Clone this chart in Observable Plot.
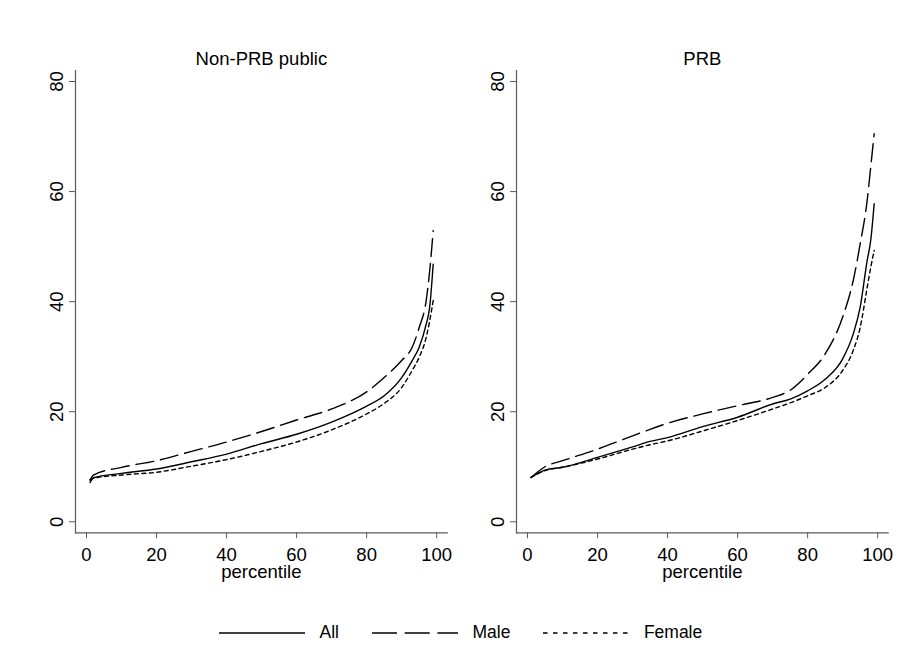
<!DOCTYPE html>
<html><head><meta charset="utf-8">
<script src="https://cdn.jsdelivr.net/npm/d3@7"></script>
<script src="https://cdn.jsdelivr.net/npm/@observablehq/plot@0.6"></script>
<style>
body{margin:0;background:#fff;font-family:"Liberation Sans",Arial,sans-serif;}
#wrap{position:relative;width:908px;height:668px;background:#fff;overflow:hidden}
.panel{position:absolute;top:0}
#legend{position:absolute;top:622px;left:219px;display:flex;align-items:center;font-size:17.5px;color:#000}
#legend .item{display:flex;align-items:center;margin-right:33px}
#legend span{margin-left:14.5px}
</style></head>
<body><div id="wrap"></div>
<script>
// ---- data ----
const panelTitles = ["Non-PRB public", "PRB"];
const seriesNames = ["All", "Male", "Female"];
const xTicks = [0, 20, 40, 60, 80, 100];
const yTicks = [0, 20, 40, 60, 80];

const pctNonPRB = [1, 2, 10, 20, 30, 40, 50, 60, 70, 80, 85, 90, 93, 95, 97, 98, 99];
const nonPRBAll    = [7.1, 8.0, 8.8, 9.6, 10.9, 12.3, 14.2, 15.9, 18.1, 21.0, 22.9, 26.2, 29.3, 31.7, 35.9, 39.0, 46.8];
const nonPRBMale   = [7.6, 8.5, 9.9, 11.1, 12.8, 14.5, 16.4, 18.5, 20.5, 23.6, 26.2, 29.3, 31.7, 35.3, 40.2, 45.6, 52.9];
const nonPRBFemale = [7.6, 7.9, 8.5, 9.0, 10.1, 11.3, 12.8, 14.5, 16.7, 19.6, 21.5, 24.4, 27.5, 29.9, 33.5, 36.5, 40.2];

const pctPRB = [1, 5, 10, 20, 30, 35, 40, 50, 60, 70, 75, 80, 85, 90, 93, 95, 97, 98, 99];
const prbAll    = [8.06, 9.4, 9.9, 11.7, 13.6, 14.6, 15.3, 17.3, 19.0, 21.4, 22.3, 23.8, 25.9, 29.6, 34.1, 39.0, 47.5, 51.1, 57.8];
const prbMale   = [8.06, 10.0, 11.1, 13.2, 15.6, 16.8, 17.9, 19.6, 21.1, 22.6, 23.9, 26.8, 30.5, 37.2, 43.8, 50.5, 58.4, 64.4, 70.5];
const prbFemale = [8.06, 9.3, 9.9, 11.4, 13.2, 14.0, 14.7, 16.5, 18.4, 20.5, 21.6, 22.9, 24.4, 27.5, 31.1, 35.3, 42.6, 46.2, 49.3];

// ---- styles ----
const dashPlot = {All: null, Male: "18,7", Female: "4,3.5"};
const dashLegend = {All: null, Male: "25,7.7", Female: "4.5,5.5"};
const FONT = '"Liberation Sans", Arial, sans-serif';

function rowsOf(pct, vals) { return pct.map((p, i) => ({p, v: vals[i]})); }

function panel(title, pct, all, male, female) {
  const series = {All: all, Male: male, Female: female};
  return Plot.plot({
    width: 460, height: 600,
    marginLeft: 75, marginRight: 13.3, marginTop: 70, marginBottom: 67.7,
    x: {domain: [-3.14, 103]},
    y: {domain: [-2, 82]},
    style: {fontFamily: FONT, fontSize: "18.5px", color: "#000", background: "transparent", overflow: "visible"},
    marks: [
      Plot.frame({anchor: "left", stroke: "#5a5a5a", strokeWidth: 1.2}),
      Plot.frame({anchor: "bottom", stroke: "#5a5a5a", strokeWidth: 1.2}),
      Plot.axisY({ticks: yTicks, tickSize: 6, tickRotate: -90, tickPadding: 7, textAnchor: "middle", lineAnchor: "bottom",
                  label: null, stroke: "#5a5a5a", fill: "#000", fontSize: 18.5}),
      Plot.axisX({ticks: xTicks, tickSize: 6, tickPadding: 9.5, label: null, stroke: "#5a5a5a", fill: "#000", fontSize: 18.5}),
      ...seriesNames.map(s => Plot.line(rowsOf(pct, series[s]), {
        x: "p", y: "v", stroke: "#000", strokeWidth: 1.4, curve: "monotone-x",
        strokeDasharray: dashPlot[s] || undefined
      })),
      Plot.text(["percentile"], {frameAnchor: "bottom", dy: 44.7, lineAnchor: "bottom", fontSize: 18.5, fill: "#000"}),
      Plot.text([title], {frameAnchor: "top", dy: -6, lineAnchor: "bottom", fontSize: 18.5, fill: "#000"})
    ]
  });
}

const wrap = document.getElementById("wrap");
const p1 = panel(panelTitles[0], pctNonPRB, nonPRBAll, nonPRBMale, nonPRBFemale);
p1.classList.add("panel"); p1.style.left = "0px";
const p2 = panel(panelTitles[1], pctPRB, prbAll, prbMale, prbFemale);
p2.classList.add("panel"); p2.style.left = "440.7px";
wrap.appendChild(p1);
wrap.appendChild(p2);

// legend
const leg = d3.select(wrap).append("div").attr("id", "legend");
seriesNames.forEach(s => {
  const it = leg.append("div").attr("class", "item");
  const svg = it.append("svg").attr("width", 86).attr("height", 10);
  const ln = svg.append("line").attr("x1", 0).attr("x2", 86).attr("y1", 5).attr("y2", 5)
    .attr("stroke", "#000").attr("stroke-width", 1.6);
  if (dashLegend[s]) ln.attr("stroke-dasharray", dashLegend[s]);
  it.append("span").text(s);
});
</script>
</body></html>
